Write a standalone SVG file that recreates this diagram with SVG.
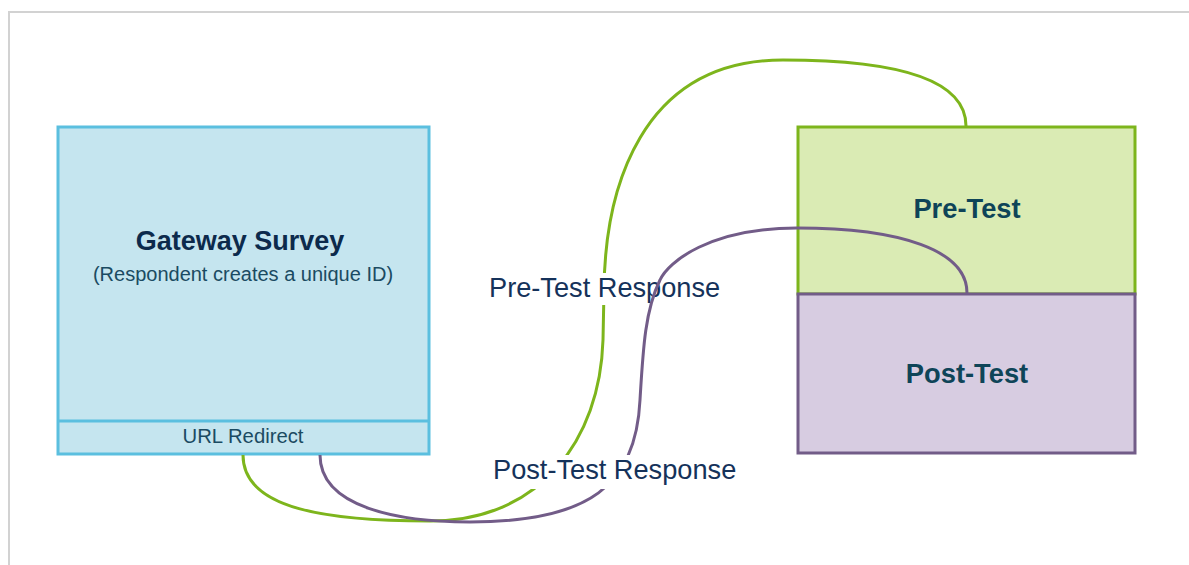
<svg xmlns="http://www.w3.org/2000/svg" width="1189" height="565" viewBox="0 0 1189 565">
<style>
.frame{stroke:#d2d2d2;stroke-width:2;fill:none}
.box{stroke-width:3}
.blue{fill:#c5e5ef;stroke:#5bbfdf}
.green{fill:#daebb4;stroke:#7db51c}
.purple{fill:#d7cce1;stroke:#725c88}
.conn{fill:none;stroke-width:3}
.title{font-family:"Liberation Sans",Arial,sans-serif;font-weight:bold;text-anchor:middle}
.sub{font-family:"Liberation Sans",Arial,sans-serif;text-anchor:middle;fill:#1b4b62}
.lbl{font-family:"Liberation Sans",Arial,sans-serif;font-size:27.2px;fill:#15325a}
</style>
<rect width="1189" height="565" fill="#ffffff"/>
<path class="frame" d="M9,565 V12 H1189"/>
<g id="gateway">
<rect class="box blue" x="58" y="127" width="371" height="327"/>
<line x1="58" y1="421" x2="429" y2="421" stroke="#5bbfdf" stroke-width="3"/>
<text class="title" x="240" y="250" font-size="27" fill="#0c2a4c">Gateway Survey</text>
<text class="sub" x="243" y="281" font-size="20">(Respondent creates a unique ID)</text>
<text class="sub" x="243" y="443" font-size="20.3">URL Redirect</text>
</g>
<g id="pretest">
<rect class="box green" x="798" y="127" width="337" height="167"/>
<text class="title" x="967" y="218" font-size="27.3" fill="#0e4458">Pre-Test</text>
</g>
<g id="posttest">
<rect class="box purple" x="798" y="294" width="337" height="159"/>
<text class="title" x="967" y="383" font-size="27.3" fill="#0e4458">Post-Test</text>
</g>
<g id="connectors">
<path class="conn" stroke="#7db51c" d="M243,455 C243,510 330,521 430,521 C540,521 600,440 603,340 L604,290 C605,190 640,60 783,60 C900,60 966,80 966,126"/>
<g id="label-pre">
<rect x="486" y="273" width="239" height="32" fill="#ffffff"/>
<text class="lbl" x="489" y="297">Pre-Test Response</text>
</g>
<path class="conn" stroke="#725c88" d="M320,455 C320,508 400,522 470,522 C590,522 636,485 640,400 C643,350 645,310 660,280 C668,262 710,228 797,228 C900,228 967,250 967,293"/>
<g id="label-post">
<rect x="489" y="455" width="252" height="34" fill="#ffffff"/>
<text class="lbl" x="493" y="479">Post-Test Response</text>
</g>
</g>
</svg>
